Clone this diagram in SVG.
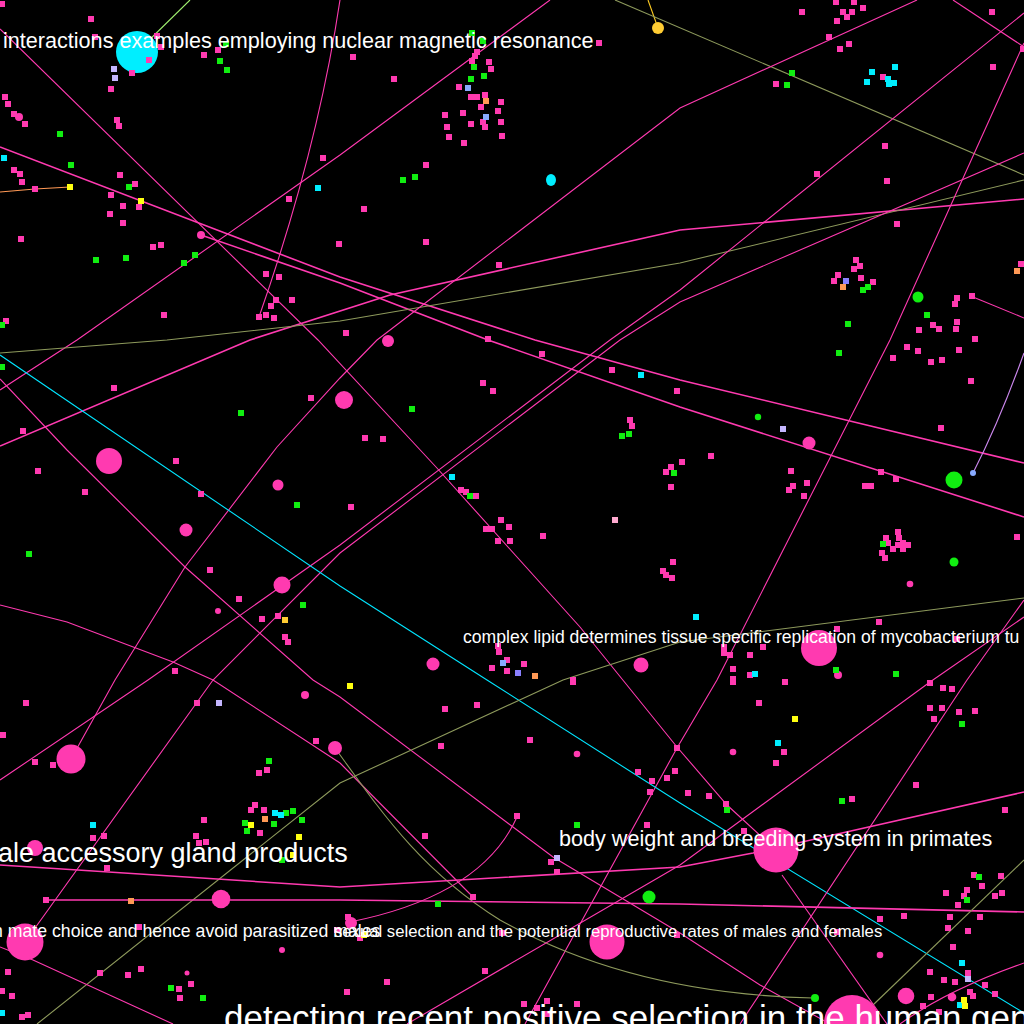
<svg xmlns="http://www.w3.org/2000/svg" xmlns:xlink="http://www.w3.org/1999/xlink" width="1024" height="1024" viewBox="0 0 1024 1024">
<style>
.bg{fill:#000}
.e{fill:none;stroke-width:1.1}
.ep{stroke:#ff3ab0}
.et{stroke:#ff3ab0;stroke-width:1.6}
.eo{stroke:#8e9a5c}
.ec{stroke:#00e5ff}
.p{fill:#ff3ab0}.g{fill:#11ee11}.c{fill:#00eeff}.y{fill:#ffff11}.gd{fill:#ffcc33}
.l{fill:#c4b6ff}.b{fill:#88aaff}.o{fill:#ff9955}.v{fill:#8a80ff}.lp{fill:#ffaad0}
text{fill:#fff;font-family:"Liberation Sans",Arial,sans-serif}
</style>
<defs><rect id="d" x="-3" y="-3" width="6" height="6"/></defs>
<rect class="bg" width="1024" height="1024"/>
<g id="edges">
<path class="e" stroke="#a0f070" d="M137,52 L190,0"/>
<path class="e" stroke="#ffcc22" d="M658,28 L648,0"/>
<path class="e eo" d="M615,0 L1024,175"/>
<path class="e ep" d="M340,0 C325,100 300,200 259,317"/>
<path class="e et" d="M0,147 L340,277 L535,340 L680,380 L1024,463"/>
<path class="e et" d="M201,235 L340,283 L488,340 L680,407 L1024,517"/>
<path class="e ep" d="M0,29 L318,340 L436,467 L580,627 L677,747 L727,805 L776,850"/>
<path class="e ep" d="M0,390 L77,340 L340,155 L550,0"/>
<path class="e et" d="M0,446 L250,340 L390,295 L680,230 L1024,199"/>
<path class="e eo" d="M0,353 L167,340 L340,321 L680,263 L1024,180"/>
<path class="e ep" d="M71,759 L115,680 L185,567 L277,447 L340,378 L377,340 L680,108 L917,0"/>
<path class="e ep" d="M953,0 L1024,47"/>
<path class="e ep" d="M0,780 L148,680 L340,545 L610,340 L680,290 L1024,13"/>
<path class="e ep" d="M25,942 L213,680 L340,553 L620,340 L680,302 L1024,153"/>
<path class="e ep" d="M1024,43 L890,340 L717,680 L677,748 L525,1024"/>
<path class="e ep" d="M973,297 L1024,318"/>
<path class="e ec" d="M0,355 L340,586 L487,680 L680,803 L1024,1013"/>
<path class="e ep" d="M0,379 L67,450 L185,567 L313,680 L340,697 L553,857 L680,933 L760,985 L830,1024"/>
<path class="e ep" d="M0,605 L67,622 L173,662 L213,680 L340,763 L473,897"/>
<path class="e eo" d="M37,1024 L340,783 L563,680 L680,642 L1024,598"/>
<path class="e eo" d="M335,748 C380,810 420,870 500,920 C580,965 680,995 813,998"/>
<path class="e ep" d="M517,817 C500,855 460,900 350,922"/>
<path class="e et" d="M0,865 L340,887 L680,867 L753,853 L1024,792"/>
<path class="e et" d="M47,900 L340,900 L680,904 L1024,912"/>
<path class="e ep" d="M407,1024 L680,865 L930,682 L1024,617"/>
<path class="e ep" d="M740,1024 L967,680 L1024,600"/>
<path class="e ep" d="M900,1024 Q947,990 1024,963"/>
<path class="e eo" d="M873,1005 L1024,860"/>
<path class="e" stroke="#cc88ee" d="M1024,353 Q1000,420 973,473"/>
<path class="e ep" d="M782,875 L887,1024"/>
<path class="e ep" d="M0,947 L33,960 L173,1024"/>
<path class="e" stroke="#ff9955" stroke-width="1.6" fill="none" d="M0,192 L35,189 L70,187"/>
</g>
<g id="nodes">
<g id="n-big">
<circle class="c" cx="137" cy="52" r="21"/>
<circle class="gd" cx="658" cy="28" r="6"/>
<ellipse class="c" cx="551" cy="180" rx="5" ry="6"/>
<circle class="p" cx="388" cy="341" r="6"/>
<circle class="p" cx="344" cy="400" r="9"/>
<circle class="p" cx="109" cy="461" r="13"/>
<circle class="p" cx="278" cy="485" r="5.5"/>
<circle class="p" cx="186" cy="530" r="6.5"/>
<circle class="p" cx="282" cy="585" r="8.5"/>
<circle class="p" cx="218" cy="611" r="3"/>
<circle class="p" cx="433" cy="664" r="6.5"/>
<circle class="p" cx="641" cy="665" r="7.5"/>
<circle class="p" cx="819" cy="648" r="18"/>
<circle class="p" cx="838" cy="675" r="4"/>
<circle class="g" cx="918" cy="297" r="5.5"/>
<circle class="g" cx="954" cy="480" r="8.5"/>
<circle class="g" cx="954" cy="562" r="4.5"/>
<circle class="g" cx="758" cy="417" r="3.2"/>
<circle class="b" cx="973" cy="473" r="3"/>
<circle class="p" cx="809" cy="443" r="6.5"/>
<circle class="p" cx="71" cy="759" r="14.5"/>
<circle class="p" cx="335" cy="748" r="7"/>
<circle class="p" cx="305" cy="695" r="4"/>
<circle class="p" cx="35" cy="848" r="8"/>
<circle class="p" cx="221" cy="899" r="9.3"/>
<circle class="p" cx="25" cy="942" r="18.5"/>
<circle class="p" cx="351" cy="923" r="6"/>
<circle class="p" cx="607" cy="942" r="17.5"/>
<circle class="p" cx="776" cy="850" r="22.5"/>
<circle class="g" cx="649" cy="897" r="6.5"/>
<circle class="p" cx="852" cy="1023" r="28"/>
<circle class="p" cx="906" cy="996" r="8.3"/>
<circle class="p" cx="577" cy="754" r="3.3"/>
<circle class="p" cx="733" cy="752" r="3.3"/>
<circle class="p" cx="880" cy="955" r="3.3"/>
<circle class="p" cx="952" cy="997" r="4.3"/>
<circle class="p" cx="282" cy="950" r="3"/>
<circle class="p" cx="187" cy="973" r="2.5"/>
<circle class="p" cx="910" cy="584" r="3.3"/>
<circle class="g" cx="815" cy="998" r="4"/>
<circle class="p" cx="19" cy="117" r="4"/>
<circle class="p" cx="201" cy="235" r="4"/>
</g>
<g id="n-pink" class="p">
<use href="#d" x="2" y="4"/><use href="#d" x="91" y="19"/><use href="#d" x="95" y="37"/><use href="#d" x="157" y="36"/><use href="#d" x="161" y="47"/><use href="#d" x="149" y="60"/><use href="#d" x="132" y="73"/><use href="#d" x="111" y="89"/><use href="#d" x="204" y="55"/><use href="#d" x="218" y="50"/><use href="#d" x="5" y="97"/><use href="#d" x="8" y="104"/><use href="#d" x="14" y="114"/><use href="#d" x="25" y="124"/><use href="#d" x="117" y="120"/><use href="#d" x="119" y="126"/><use href="#d" x="14" y="170"/><use href="#d" x="20" y="174"/><use href="#d" x="22" y="182"/><use href="#d" x="35" y="189"/><use href="#d" x="120" y="175"/><use href="#d" x="135" y="184"/><use href="#d" x="111" y="195"/><use href="#d" x="139" y="207"/><use href="#d" x="123" y="206"/><use href="#d" x="110" y="214"/><use href="#d" x="123" y="223"/><use href="#d" x="21" y="239"/><use href="#d" x="153" y="247"/><use href="#d" x="161" y="245"/><use href="#d" x="323" y="158"/><use href="#d" x="289" y="199"/><use href="#d" x="339" y="244"/><use href="#d" x="266" y="274"/><use href="#d" x="279" y="277"/><use href="#d" x="292" y="300"/><use href="#d" x="276" y="300"/><use href="#d" x="271" y="306"/><use href="#d" x="259" y="317"/><use href="#d" x="266" y="315"/><use href="#d" x="274" y="318"/><use href="#d" x="164" y="315"/><use href="#d" x="6" y="321"/>
<use href="#d" x="477" y="52"/><use href="#d" x="475" y="56"/><use href="#d" x="472" y="61"/><use href="#d" x="489" y="62"/><use href="#d" x="491" y="69"/><use href="#d" x="459" y="87"/><use href="#d" x="471" y="97"/><use href="#d" x="477" y="97"/><use href="#d" x="485" y="95"/><use href="#d" x="481" y="107"/><use href="#d" x="501" y="102"/><use href="#d" x="498" y="111"/><use href="#d" x="445" y="115"/><use href="#d" x="463" y="113"/><use href="#d" x="483" y="122"/><use href="#d" x="485" y="127"/><use href="#d" x="471" y="124"/><use href="#d" x="501" y="122"/><use href="#d" x="447" y="127"/><use href="#d" x="449" y="137"/><use href="#d" x="464" y="143"/><use href="#d" x="502" y="136"/><use href="#d" x="353" y="57"/><use href="#d" x="394" y="79"/><use href="#d" x="599" y="43"/><use href="#d" x="426" y="165"/><use href="#d" x="364" y="209"/><use href="#d" x="426" y="242"/><use href="#d" x="499" y="265"/><use href="#d" x="346" y="333"/><use href="#d" x="488" y="339"/>
<use href="#d" x="836" y="2"/><use href="#d" x="854" y="2"/><use href="#d" x="863" y="8"/><use href="#d" x="802" y="12"/><use href="#d" x="843" y="12"/><use href="#d" x="852" y="12"/><use href="#d" x="847" y="17"/><use href="#d" x="837" y="21"/><use href="#d" x="992" y="12"/><use href="#d" x="1023" y="49"/><use href="#d" x="829" y="37"/><use href="#d" x="849" y="44"/><use href="#d" x="840" y="49"/><use href="#d" x="993" y="67"/><use href="#d" x="776" y="84"/><use href="#d" x="883" y="77"/><use href="#d" x="885" y="146"/><use href="#d" x="817" y="174"/><use href="#d" x="887" y="181"/><use href="#d" x="897" y="224"/><use href="#d" x="1021" y="264"/><use href="#d" x="856" y="260"/><use href="#d" x="860" y="266"/><use href="#d" x="854" y="269"/><use href="#d" x="838" y="275"/><use href="#d" x="834" y="281"/><use href="#d" x="861" y="278"/><use href="#d" x="873" y="282"/><use href="#d" x="957" y="298"/><use href="#d" x="955" y="304"/><use href="#d" x="972" y="296"/><use href="#d" x="957" y="322"/><use href="#d" x="933" y="325"/><use href="#d" x="939" y="329"/><use href="#d" x="919" y="330"/><use href="#d" x="956" y="329"/><use href="#d" x="975" y="339"/>
<use href="#d" x="114" y="388"/><use href="#d" x="311" y="398"/><use href="#d" x="23" y="431"/><use href="#d" x="176" y="461"/><use href="#d" x="38" y="471"/><use href="#d" x="85" y="492"/><use href="#d" x="201" y="494"/><use href="#d" x="210" y="570"/><use href="#d" x="239" y="599"/><use href="#d" x="262" y="619"/><use href="#d" x="278" y="616"/><use href="#d" x="285" y="637"/><use href="#d" x="288" y="642"/><use href="#d" x="175" y="671"/>
<use href="#d" x="542" y="354"/><use href="#d" x="612" y="370"/><use href="#d" x="677" y="391"/><use href="#d" x="483" y="383"/><use href="#d" x="493" y="391"/><use href="#d" x="365" y="438"/><use href="#d" x="383" y="439"/><use href="#d" x="630" y="420"/><use href="#d" x="632" y="426"/><use href="#d" x="461" y="490"/><use href="#d" x="466" y="492"/><use href="#d" x="476" y="496"/><use href="#d" x="351" y="507"/><use href="#d" x="501" y="520"/><use href="#d" x="509" y="527"/><use href="#d" x="486" y="529"/><use href="#d" x="492" y="529"/><use href="#d" x="498" y="541"/><use href="#d" x="510" y="541"/><use href="#d" x="543" y="536"/><use href="#d" x="671" y="467"/><use href="#d" x="666" y="472"/><use href="#d" x="671" y="487"/><use href="#d" x="673" y="562"/><use href="#d" x="663" y="571"/><use href="#d" x="666" y="575"/><use href="#d" x="672" y="578"/><use href="#d" x="498" y="646"/><use href="#d" x="499" y="652"/><use href="#d" x="507" y="660"/><use href="#d" x="524" y="664"/><use href="#d" x="492" y="668"/><use href="#d" x="507" y="671"/><use href="#d" x="573" y="680"/>
<use href="#d" x="907" y="347"/><use href="#d" x="918" y="351"/><use href="#d" x="959" y="350"/><use href="#d" x="893" y="358"/><use href="#d" x="931" y="362"/><use href="#d" x="942" y="360"/><use href="#d" x="971" y="381"/><use href="#d" x="941" y="428"/><use href="#d" x="711" y="456"/><use href="#d" x="682" y="462"/><use href="#d" x="791" y="471"/><use href="#d" x="807" y="483"/><use href="#d" x="793" y="486"/><use href="#d" x="789" y="490"/><use href="#d" x="804" y="496"/><use href="#d" x="881" y="472"/><use href="#d" x="896" y="479"/><use href="#d" x="865" y="486"/><use href="#d" x="871" y="486"/><use href="#d" x="1017" y="537"/><use href="#d" x="898" y="532"/><use href="#d" x="886" y="538"/><use href="#d" x="899" y="538"/><use href="#d" x="888" y="543"/><use href="#d" x="898" y="545"/><use href="#d" x="903" y="543"/><use href="#d" x="908" y="545"/><use href="#d" x="893" y="549"/><use href="#d" x="903" y="549"/><use href="#d" x="882" y="553"/><use href="#d" x="885" y="558"/><use href="#d" x="879" y="622"/><use href="#d" x="837" y="629"/><use href="#d" x="724" y="647"/><use href="#d" x="724" y="653"/><use href="#d" x="730" y="655"/><use href="#d" x="763" y="647"/><use href="#d" x="750" y="655"/><use href="#d" x="733" y="669"/><use href="#d" x="750" y="675"/><use href="#d" x="957" y="639"/><use href="#d" x="733" y="679"/>
<use href="#d" x="26" y="703"/><use href="#d" x="197" y="703"/><use href="#d" x="3" y="735"/><use href="#d" x="316" y="741"/><use href="#d" x="35" y="762"/><use href="#d" x="53" y="765"/><use href="#d" x="267" y="770"/><use href="#d" x="259" y="773"/><use href="#d" x="255" y="805"/><use href="#d" x="251" y="810"/><use href="#d" x="264" y="810"/><use href="#d" x="260" y="833"/><use href="#d" x="204" y="820"/><use href="#d" x="104" y="836"/><use href="#d" x="93" y="838"/><use href="#d" x="196" y="836"/><use href="#d" x="199" y="843"/><use href="#d" x="206" y="842"/><use href="#d" x="107" y="868"/><use href="#d" x="46" y="900"/><use href="#d" x="139" y="927"/><use href="#d" x="337" y="930"/><use href="#d" x="8" y="972"/><use href="#d" x="100" y="973"/><use href="#d" x="128" y="975"/><use href="#d" x="141" y="969"/><use href="#d" x="191" y="984"/><use href="#d" x="179" y="989"/><use href="#d" x="180" y="998"/><use href="#d" x="2" y="991"/><use href="#d" x="12" y="996"/><use href="#d" x="22" y="1017"/><use href="#d" x="28" y="1015"/>
<use href="#d" x="573" y="682"/><use href="#d" x="445" y="709"/><use href="#d" x="477" y="705"/><use href="#d" x="530" y="740"/><use href="#d" x="441" y="746"/><use href="#d" x="638" y="772"/><use href="#d" x="652" y="781"/><use href="#d" x="667" y="778"/><use href="#d" x="675" y="771"/><use href="#d" x="677" y="748"/><use href="#d" x="650" y="792"/><use href="#d" x="517" y="816"/><use href="#d" x="647" y="825"/><use href="#d" x="425" y="836"/><use href="#d" x="551" y="862"/><use href="#d" x="557" y="872"/><use href="#d" x="473" y="897"/><use href="#d" x="348" y="917"/><use href="#d" x="360" y="938"/><use href="#d" x="502" y="933"/><use href="#d" x="485" y="971"/><use href="#d" x="387" y="982"/><use href="#d" x="347" y="992"/><use href="#d" x="524" y="1004"/><use href="#d" x="547" y="1001"/><use href="#d" x="577" y="1004"/><use href="#d" x="537" y="1008"/><use href="#d" x="547" y="1014"/><use href="#d" x="677" y="935"/>
<use href="#d" x="733" y="682"/><use href="#d" x="785" y="682"/><use href="#d" x="930" y="683"/><use href="#d" x="943" y="688"/><use href="#d" x="952" y="689"/><use href="#d" x="759" y="703"/><use href="#d" x="930" y="708"/><use href="#d" x="942" y="708"/><use href="#d" x="959" y="712"/><use href="#d" x="975" y="711"/><use href="#d" x="934" y="719"/><use href="#d" x="784" y="752"/><use href="#d" x="776" y="763"/><use href="#d" x="916" y="785"/><use href="#d" x="688" y="793"/><use href="#d" x="709" y="796"/><use href="#d" x="726" y="804"/><use href="#d" x="852" y="799"/><use href="#d" x="1005" y="810"/><use href="#d" x="744" y="831"/><use href="#d" x="974" y="875"/><use href="#d" x="1001" y="876"/><use href="#d" x="982" y="886"/><use href="#d" x="967" y="890"/><use href="#d" x="946" y="893"/><use href="#d" x="1002" y="893"/><use href="#d" x="995" y="896"/><use href="#d" x="964" y="896"/><use href="#d" x="958" y="905"/><use href="#d" x="880" y="919"/><use href="#d" x="904" y="916"/><use href="#d" x="950" y="917"/><use href="#d" x="980" y="917"/><use href="#d" x="948" y="928"/><use href="#d" x="968" y="931"/><use href="#d" x="953" y="947"/><use href="#d" x="930" y="972"/><use href="#d" x="968" y="973"/><use href="#d" x="944" y="980"/><use href="#d" x="955" y="982"/><use href="#d" x="985" y="985"/><use href="#d" x="995" y="994"/><use href="#d" x="970" y="992"/><use href="#d" x="973" y="996"/><use href="#d" x="931" y="997"/><use href="#d" x="923" y="1006"/><use href="#d" x="939" y="1012"/><use href="#d" x="837" y="932"/>
</g>
<g id="n-lightpink" class="lp"><use href="#d" x="615" y="520"/></g>
<g id="n-green" class="g">
<use href="#d" x="220" y="61"/><use href="#d" x="227" y="70"/><use href="#d" x="226" y="44"/><use href="#d" x="60" y="134"/><use href="#d" x="71" y="165"/><use href="#d" x="129" y="187"/><use href="#d" x="96" y="260"/><use href="#d" x="126" y="258"/><use href="#d" x="195" y="255"/><use href="#d" x="184" y="263"/><use href="#d" x="2" y="325"/>
<use href="#d" x="472" y="33"/><use href="#d" x="483" y="41"/><use href="#d" x="474" y="67"/><use href="#d" x="471" y="79"/><use href="#d" x="484" y="76"/><use href="#d" x="403" y="180"/><use href="#d" x="415" y="177"/>
<use href="#d" x="792" y="73"/><use href="#d" x="787" y="85"/><use href="#d" x="868" y="287"/><use href="#d" x="863" y="290"/><use href="#d" x="927" y="315"/><use href="#d" x="848" y="324"/>
<use href="#d" x="2" y="367"/><use href="#d" x="241" y="413"/><use href="#d" x="297" y="505"/><use href="#d" x="29" y="554"/><use href="#d" x="303" y="605"/>
<use href="#d" x="412" y="409"/><use href="#d" x="622" y="436"/><use href="#d" x="629" y="434"/><use href="#d" x="470" y="496"/><use href="#d" x="674" y="473"/>
<use href="#d" x="839" y="353"/><use href="#d" x="883" y="544"/><use href="#d" x="836" y="670"/><use href="#d" x="896" y="674"/>
<use href="#d" x="269" y="761"/><use href="#d" x="286" y="813"/><use href="#d" x="293" y="811"/><use href="#d" x="302" y="820"/><use href="#d" x="245" y="823"/><use href="#d" x="274" y="824"/><use href="#d" x="247" y="831"/><use href="#d" x="282" y="860"/><use href="#d" x="171" y="988"/><use href="#d" x="203" y="998"/>
<use href="#d" x="577" y="825"/><use href="#d" x="438" y="904"/>
<use href="#d" x="962" y="724"/><use href="#d" x="727" y="810"/><use href="#d" x="842" y="801"/><use href="#d" x="979" y="877"/><use href="#d" x="967" y="900"/>
</g>
<g id="n-cyan" class="c">
<use href="#d" x="4" y="158"/><use href="#d" x="318" y="188"/><use href="#d" x="872" y="72"/><use href="#d" x="895" y="67"/><use href="#d" x="867" y="82"/><use href="#d" x="888" y="79"/><use href="#d" x="889" y="84"/><use href="#d" x="894" y="83"/><use href="#d" x="641" y="375"/><use href="#d" x="452" y="477"/><use href="#d" x="696" y="617"/><use href="#d" x="755" y="674"/><use href="#d" x="275" y="813"/><use href="#d" x="281" y="815"/><use href="#d" x="93" y="825"/><use href="#d" x="2" y="1013"/><use href="#d" x="778" y="743"/><use href="#d" x="962" y="963"/><use href="#d" x="960" y="1005"/>
</g>
<g id="n-yellow" class="y">
<use href="#d" x="70" y="187"/><use href="#d" x="141" y="201"/><use href="#d" x="251" y="825"/><use href="#d" x="299" y="837"/><use href="#d" x="293" y="855"/><use href="#d" x="350" y="686"/><use href="#d" x="364" y="935"/><use href="#d" x="795" y="719"/><use href="#d" x="964" y="1000"/><use href="#d" x="965" y="1006"/>
</g>
<g id="n-gold" class="gd"><use href="#d" x="285" y="620"/></g>
<g id="n-lavender" class="l">
<use href="#d" x="114" y="69"/><use href="#d" x="115" y="78"/><use href="#d" x="783" y="429"/><use href="#d" x="219" y="703"/><use href="#d" x="557" y="858"/><use href="#d" x="968" y="979"/>
</g>
<g id="n-blue" class="b"><use href="#d" x="468" y="88"/><use href="#d" x="486" y="117"/><use href="#d" x="503" y="663"/></g>
<g id="n-orange" class="o"><use href="#d" x="486" y="101"/><use href="#d" x="1017" y="271"/><use href="#d" x="843" y="287"/><use href="#d" x="535" y="676"/><use href="#d" x="265" y="819"/><use href="#d" x="131" y="901"/></g>
<g id="n-violet" class="v"><use href="#d" x="846" y="281"/><use href="#d" x="518" y="673"/></g>
</g>
<g id="labels">
<text x="3" y="48" font-size="21.6">interactions examples employing nuclear magnetic resonance</text>
<text x="463" y="643" font-size="17.6">complex lipid determines tissue specific replication of mycobacterium tu</text>
<text x="559" y="846" font-size="21.6">body weight and breeding system in primates</text>
<text x="-2" y="862" font-size="27">ale accessory gland products</text>
<text x="-7" y="937" font-size="17.7">n mate choice and hence avoid parasitized males</text>
<text x="334" y="937" font-size="16.7">sexual selection and the potential reproductive rates of males and females</text>
<text x="224" y="1030" font-size="35">detecting recent positive selection in the human gen</text>
</g>
</svg>
